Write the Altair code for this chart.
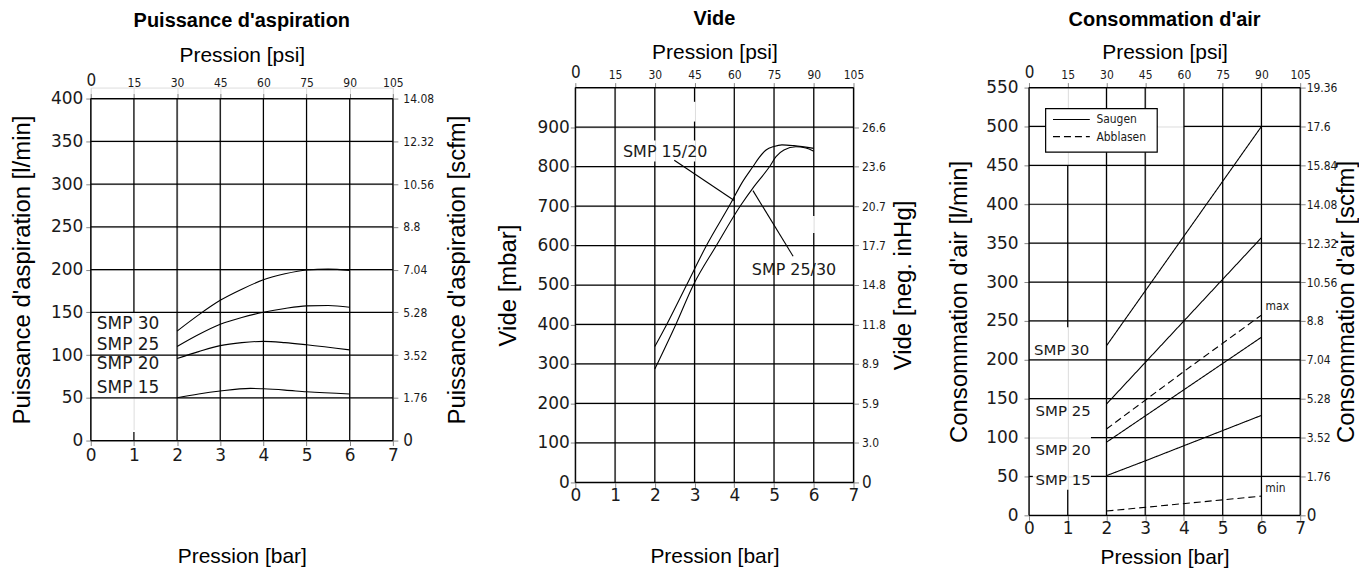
import altair as alt
import pandas as pd

# ---------------- shared ticks ----------------
BAR_TICKS = [0, 1, 2, 3, 4, 5, 6, 7]
PSI_TICKS = [0, 15, 30, 45, 60, 75, 90, 105]

# ---------------- panel 1 : Puissance d'aspiration ----------------
P1_Y_TICKS = [0, 50, 100, 150, 200, 250, 300, 350, 400]
P1_RIGHT_LABELS = ["0", "1.76", "3.52", "5.28", "7.04", "8.8", "10.56", "12.32", "14.08"]
P1_SERIES = ["SMP 15", "SMP 20", "SMP 25", "SMP 30"]
P1_X = {
    "SMP 15": [2, 2.5, 3, 3.7, 4, 4.5, 5, 6],
    "SMP 20": [2, 2.5, 3, 3.5, 4, 4.5, 5, 6],
    "SMP 25": [2, 2.5, 3, 3.5, 4, 4.5, 5, 5.5, 6],
    "SMP 30": [2, 2.5, 3, 3.5, 4, 4.5, 5, 5.5, 6],
}
P1_Y = {
    "SMP 15": [50, 54.5, 58, 61, 60.5, 59, 57, 54.5],
    "SMP 20": [96, 104, 111, 114.5, 116, 114.5, 112, 106],
    "SMP 25": [110, 124, 136, 144, 150, 154.5, 157.5, 158, 156],
    "SMP 30": [128, 147, 164, 177, 188, 195, 199.5, 200.5, 199],
}
P1_LABELS = ["SMP 30", "SMP 25", "SMP 20", "SMP 15"]
P1_LABEL_X = [0.14, 0.14, 0.14, 0.14]
P1_LABEL_Y = [136, 112, 89, 62]
P1_VGRID_X = [0, 1, 1, 2, 3, 4, 5, 6, 7]
P1_VGRID_Y0 = [0, 150, 0, 0, 0, 0, 0, 0, 0]
P1_VGRID_Y1 = [400, 400, 10, 400, 400, 400, 400, 400, 400]
P1_HGRID_Y = [0, 50, 100, 150, 200, 250, 300, 350, 400]
P1_HGRID_X0 = [0, 0, 0, 0, 0, 0, 0, 0, 0]
P1_HGRID_X1 = [7, 7, 7, 7, 7, 7, 7, 7, 7]

# ---------------- panel 2 : Vide ----------------
P2_Y_TICKS = [0, 100, 200, 300, 400, 500, 600, 700, 800, 900]
P2_RIGHT_LABELS = ["0", "3.0", "5.9", "8.9", "11.8", "14.8", "17.7", "20.7", "23.6", "26.6"]
P2_SERIES = ["SMP 15/20", "SMP 25/30"]
P2_X = {
    "SMP 15/20": [2.0, 2.3, 2.8, 3.3, 3.9, 4.2, 4.47, 4.62, 4.8, 5.0, 5.2, 5.5, 6.0],
    "SMP 25/30": [2.0, 2.53, 2.97, 3.55, 4.15, 4.5, 4.89, 5.05, 5.25, 5.55, 5.8, 6.0],
}
P2_Y = {
    "SMP 15/20": [344, 400, 500, 600, 705, 760, 800, 822, 842, 851, 855, 853, 846],
    "SMP 25/30": [287, 400, 500, 600, 700, 750, 800, 825, 842, 850, 847, 839],
}
P2_LABELS = ["SMP 15/20", "SMP 25/30"]
P2_LABEL_X = [1.2, 4.44]
P2_LABEL_Y = [838, 539]
P2_LEADER_X = [2.49, 4.47]
P2_LEADER_Y = [816, 739]
P2_LEADER_X2 = [4.0, 5.48]
P2_LEADER_Y2 = [714, 573]
P2_VGRID_X = [0, 1, 2, 2, 3, 3, 3, 4, 5, 6, 6, 7]
P2_VGRID_Y0 = [0, 0, 0, 866, 0, 866, 964, 0, 0, 0, 675, 0]
P2_VGRID_Y1 = [1000, 1000, 813, 1000, 813, 914, 1000, 1000, 1000, 632, 1000, 1000]
P2_HGRID_Y = [0, 100, 200, 300, 400, 500, 600, 700, 800, 900, 1000]
P2_HGRID_X0 = [0, 0, 0, 0, 0, 0, 0, 0, 0, 0, 0]
P2_HGRID_X1 = [7, 7, 7, 7, 7, 7, 7, 7, 7, 7, 7]

# ---------------- panel 3 : Consommation d'air ----------------
P3_Y_TICKS = [0, 50, 100, 150, 200, 250, 300, 350, 400, 450, 500, 550]
P3_RIGHT_LABELS = ["0", "1.76", "3.52", "5.28", "7.04", "8.8", "10.56", "12.32",
                   "14.08", "15.84", "17.6", "19.36"]
P3_SERIES = ["SMP 30", "SMP 25", "SMP 20", "SMP 15", "max", "min"]
P3_KIND = {"SMP 30": "Saugen", "SMP 25": "Saugen", "SMP 20": "Saugen",
           "SMP 15": "Saugen", "max": "Abblasen", "min": "Abblasen"}
P3_X = {
    "SMP 30": [2, 6],
    "SMP 25": [2, 6],
    "SMP 20": [2, 6],
    "SMP 15": [2, 3, 4, 5, 6],
    "max": [2, 4, 6],
    "min": [2, 6],
}
P3_Y = {
    "SMP 30": [218, 500],
    "SMP 25": [143, 357],
    "SMP 20": [94, 229],
    "SMP 15": [51, 70, 89.5, 109, 128.5],
    "max": [111, 185, 257.5],
    "min": [5.5, 24.7],
}
P3_LABELS = ["SMP 30", "SMP 25", "SMP 20", "SMP 15"]
P3_LABEL_X = [0.13, 0.17, 0.17, 0.17]
P3_LABEL_Y = [213, 134, 84.5, 46]
P3_NOTE_LABELS = ["max", "min"]
P3_NOTE_X = [6.41, 6.36]
P3_NOTE_Y = [269, 35]
P3_LEGEND_LABELS = ["Saugen", "Abblasen"]
P3_LEGEND_Y = [509, 487]
P3_VGRID_X = [0, 1, 1, 2, 3, 4, 5, 6, 7]
P3_VGRID_Y0 = [0, 242, 0, 0, 0, 0, 0, 0, 0]
P3_VGRID_Y1 = [550, 450, 33, 550, 550, 550, 550, 550, 550]
P3_HGRID_Y = [0, 50, 50, 100, 150, 200, 250, 300, 350, 400, 450, 500, 500, 550]
P3_HGRID_X0 = [0, 0, 1.6, 1.6, 0, 0, 0, 0, 0, 0, 0, 0, 4, 0]
P3_HGRID_X1 = [7, 0.1, 7, 7, 7, 7, 7, 7, 7, 7, 7, 3.31, 7, 7]

# ---------------- styling ----------------
TITLE_FONT = "Liberation Sans"
TICK_FONT = "DejaVu Sans"
SMALL_FONT = "DejaVu Sans Condensed, DejaVu Sans"
INK = "#1a1a1a"


def curves_df(series, xs, ys, kind=None):
    rows = []
    for s in series:
        for i, (x, y) in enumerate(zip(xs[s], ys[s])):
            rows.append({"series": s, "x": x, "y": y, "i": i,
                         "kind": kind[s] if kind else "Saugen"})
    return pd.DataFrame(rows)


def right_label_expr(ticks, labels):
    arr_l = "[" + ",".join("'" + l + "'" for l in labels) + "]"
    arr_v = "[" + ",".join(str(v) for v in ticks) + "]"
    return f"{arr_l}[indexof({arr_v}, datum.value)]"


def build_panel(title, ymax, yticks, right_labels, left_title, right_title,
                bottom_title, width, height, top_gap, vgrid, hgrid,
                extra_layers_fn, pads):
    total_h = height + top_gap
    xs = alt.Scale(domain=[0, 7], nice=False, zero=False)
    ys = alt.Scale(domain=[0, ymax], nice=False, zero=False, range=[total_h, top_gap])
    title_y = top_gap + height / 2
    X = alt.X("x:Q", scale=xs, axis=alt.Axis(
        values=BAR_TICKS, title=bottom_title, orient="bottom", labelAngle=0,
        labelFont=TICK_FONT, labelFontSize=17, labelColor=INK,
        labelPadding=pads["xlab"], titlePadding=pads["xtitle"],
        titleFont=TITLE_FONT, titleFontSize=21, titleFontWeight="normal",
        titleColor="#000", labelFlush=False, labelOverlap=False))
    Y = alt.Y("y:Q", scale=ys, axis=alt.Axis(
        values=yticks, title=left_title, orient="left",
        labelFont=TICK_FONT, labelFontSize=17, labelColor=INK,
        labelPadding=pads["ylab"], titlePadding=pads["ytitle"], titleY=title_y,
        titleFont=TITLE_FONT, titleFontSize=24, titleFontWeight="normal",
        titleColor="#000", labelFlush=False, labelOverlap=False))

    vg = pd.DataFrame({"x": vgrid[0], "y": vgrid[1], "y2": vgrid[2]})
    hg = pd.DataFrame({"y": hgrid[0], "x": hgrid[1], "x2": hgrid[2]})
    vlayer = alt.Chart(vg).mark_rule(color="#000", strokeWidth=1.25).encode(
        x=X, y=Y, y2=alt.Y2("y2:Q"))
    hlayer = alt.Chart(hg).mark_rule(color="#000", strokeWidth=1.25).encode(
        y=Y, x=X, x2=alt.X2("x2:Q"))

    inner = alt.layer(vlayer, hlayer, *extra_layers_fn(X, Y))

    carrier_df = pd.DataFrame({"psi": [0, 105], "r": [0, ymax]})
    size_cond = {"condition": {"test": "datum.value == 0", "value": 17}, "value": 12}
    carrier = alt.Chart(carrier_df).mark_point(opacity=0, size=1).encode(
        x=alt.X("psi:Q", scale=alt.Scale(domain=[0, 105], nice=False, zero=False),
                axis=alt.Axis(orient="top", values=PSI_TICKS, title="Pression [psi]",
                              offset=-top_gap,
                              labelFont=SMALL_FONT, labelFontSize=size_cond,
                              labelColor=INK, labelAngle=0,
                              labelPadding=pads["plab"], titlePadding=pads["ptitle"],
                              titleFont=TITLE_FONT, titleFontSize=21,
                              titleFontWeight="normal", titleColor="#000",
                              labelFlush=False, labelOverlap=False)),
        y=alt.Y("r:Q", scale=alt.Scale(domain=[0, ymax], nice=False, zero=False,
                                       range=[total_h, top_gap]),
                axis=alt.Axis(orient="right", values=yticks,
                              labelExpr=right_label_expr(yticks, right_labels),
                              title=right_title, titleAngle=270, titleBaseline="top",
                              titleY=title_y,
                              labelFont=SMALL_FONT, labelFontSize=size_cond,
                              labelColor=INK,
                              labelPadding=pads["rlab"], titlePadding=pads["rtitle"],
                              titleFont=TITLE_FONT, titleFontSize=24,
                              titleFontWeight="normal", titleColor="#000",
                              labelFlush=False, labelOverlap=False)),
    )

    return alt.layer(inner, carrier).resolve_scale(
        x="independent", y="independent"
    ).properties(
        width=width, height=total_h,
        title=alt.TitleParams(title, font=TITLE_FONT, fontSize=20, fontWeight="bold",
                              color="#000", anchor="middle", offset=pads["title"]),
    )


# ---- panel layers ----
def p1_layers(X, Y):
    df = curves_df(P1_SERIES, P1_X, P1_Y)
    lines = alt.Chart(df).mark_line(color="#000", strokeWidth=1.1,
                                    interpolate="monotone").encode(
        x=X, y=Y, detail="series:N", order="i:Q")
    lab = pd.DataFrame({"label": P1_LABELS, "x": P1_LABEL_X, "y": P1_LABEL_Y})
    txt = alt.Chart(lab).mark_text(align="left", baseline="middle", font=TICK_FONT,
                                   fontSize=17, color=INK).encode(
        x=X, y=Y, text="label:N")
    return [lines, txt]


def p2_layers(X, Y):
    df = curves_df(P2_SERIES, P2_X, P2_Y)
    lines = alt.Chart(df).mark_line(color="#000", strokeWidth=1.1,
                                    interpolate="monotone").encode(
        x=X, y=Y, detail="series:N", order="i:Q")
    ld = pd.DataFrame({"x": P2_LEADER_X, "y": P2_LEADER_Y,
                       "x2": P2_LEADER_X2, "y2": P2_LEADER_Y2})
    leaders = alt.Chart(ld).mark_rule(color="#000", strokeWidth=1.1).encode(
        x=X, y=Y, x2=alt.X2("x2:Q"), y2=alt.Y2("y2:Q"))
    lab = pd.DataFrame({"label": P2_LABELS, "x": P2_LABEL_X, "y": P2_LABEL_Y})
    txt = alt.Chart(lab).mark_text(align="left", baseline="middle", font=TICK_FONT,
                                   fontSize=16, color=INK).encode(
        x=X, y=Y, text="label:N")
    return [lines, leaders, txt]


def p3_layers(X, Y):
    df = curves_df(P3_SERIES, P3_X, P3_Y, P3_KIND)
    dash = alt.StrokeDash("kind:N", scale=alt.Scale(domain=["Saugen", "Abblasen"],
                                                    range=[[1, 0], [7, 4]]),
                          legend=None)
    lines = alt.Chart(df).mark_line(color="#000", strokeWidth=1.1).encode(
        x=X, y=Y, detail="series:N", order="i:Q", strokeDash=dash)
    lab = pd.DataFrame({"label": P3_LABELS, "x": P3_LABEL_X, "y": P3_LABEL_Y})
    txt = alt.Chart(lab).mark_text(align="left", baseline="middle", font=TICK_FONT,
                                   fontSize=15, color=INK).encode(
        x=X, y=Y, text="label:N")
    notes = pd.DataFrame({"label": P3_NOTE_LABELS, "x": P3_NOTE_X, "y": P3_NOTE_Y})
    ntxt = alt.Chart(notes).mark_text(align="center", baseline="middle",
                                      font=SMALL_FONT, fontSize=12, color=INK).encode(
        x=X, y=Y, text="label:N")
    box = alt.Chart(pd.DataFrame({"x": [0.43], "x2": [3.31], "y": [467], "y2": [523]})
                    ).mark_rect(fill="white", stroke="#000", strokeWidth=1.2).encode(
        x=X, x2=alt.X2("x2:Q"), y=Y, y2=alt.Y2("y2:Q"))
    leg = pd.DataFrame({"kind": P3_LEGEND_LABELS, "y": P3_LEGEND_Y,
                        "x": [0.62, 0.62], "x2": [1.57, 1.57]})
    legl = alt.Chart(leg).mark_rule(color="#000", strokeWidth=1.1).encode(
        x=X, x2=alt.X2("x2:Q"), y=Y, strokeDash=dash)
    legtxt = pd.DataFrame({"kind": P3_LEGEND_LABELS, "y": P3_LEGEND_Y,
                           "x": [1.74, 1.74]})
    legt = alt.Chart(legtxt).mark_text(align="left", baseline="middle",
                                       font=SMALL_FONT, fontSize=12,
                                       color=INK).encode(
        x=X, y=Y, text="kind:N")
    return [lines, txt, ntxt, box, legl, legt]


p1 = build_panel(
    "Puissance d'aspiration", 400, P1_Y_TICKS, P1_RIGHT_LABELS,
    "Puissance d'aspiration [l/min]", "Puissance d'aspiration [scfm]",
    "Pression [bar]", 303, 343, 11,
    (P1_VGRID_X, P1_VGRID_Y0, P1_VGRID_Y1), (P1_HGRID_Y, P1_HGRID_X0, P1_HGRID_X1),
    p1_layers,
    dict(xlab=2, xtitle=82, ylab=3, ytitle=16, plab=4, ptitle=6, rlab=5,
         rtitle=12, title=14),
)
p2 = build_panel(
    "Vide", 1000, P2_Y_TICKS, P2_RIGHT_LABELS,
    "Vide [mbar]", "Vide [neg. inHg]",
    "Pression  [bar]", 279, 396, 0,
    (P2_VGRID_X, P2_VGRID_Y0, P2_VGRID_Y1), (P2_HGRID_Y, P2_HGRID_X0, P2_HGRID_X1),
    p2_layers,
    dict(xlab=0.5, xtitle=41.5, ylab=1, ytitle=17, plab=1, ptitle=1.5, rlab=3,
         rtitle=6, title=12),
)
p3 = build_panel(
    "Consommation d'air", 550, P3_Y_TICKS, P3_RIGHT_LABELS,
    "Consommation d'air [l/min]", "Consommation d'air [scfm]",
    "Pression  [bar]", 272, 429, 0,
    (P3_VGRID_X, P3_VGRID_Y0, P3_VGRID_Y1), (P3_HGRID_Y, P3_HGRID_X0, P3_HGRID_X1),
    p3_layers,
    dict(xlab=0, xtitle=10, ylab=6, ytitle=14, plab=1, ptitle=1, rlab=1,
         rtitle=-2, title=12),
)

chart = alt.hconcat(
    alt.hconcat(p1, p2, spacing=25), p3, spacing=31
).properties(
    padding={"left": 2, "top": 0, "right": -1, "bottom": 0}
).configure_view(
    stroke=None
).configure_axis(
    grid=False, ticks=False, domain=False
).configure(background="white")

chart.save("out.html", embed_options={"renderer": "svg", "actions": False})
